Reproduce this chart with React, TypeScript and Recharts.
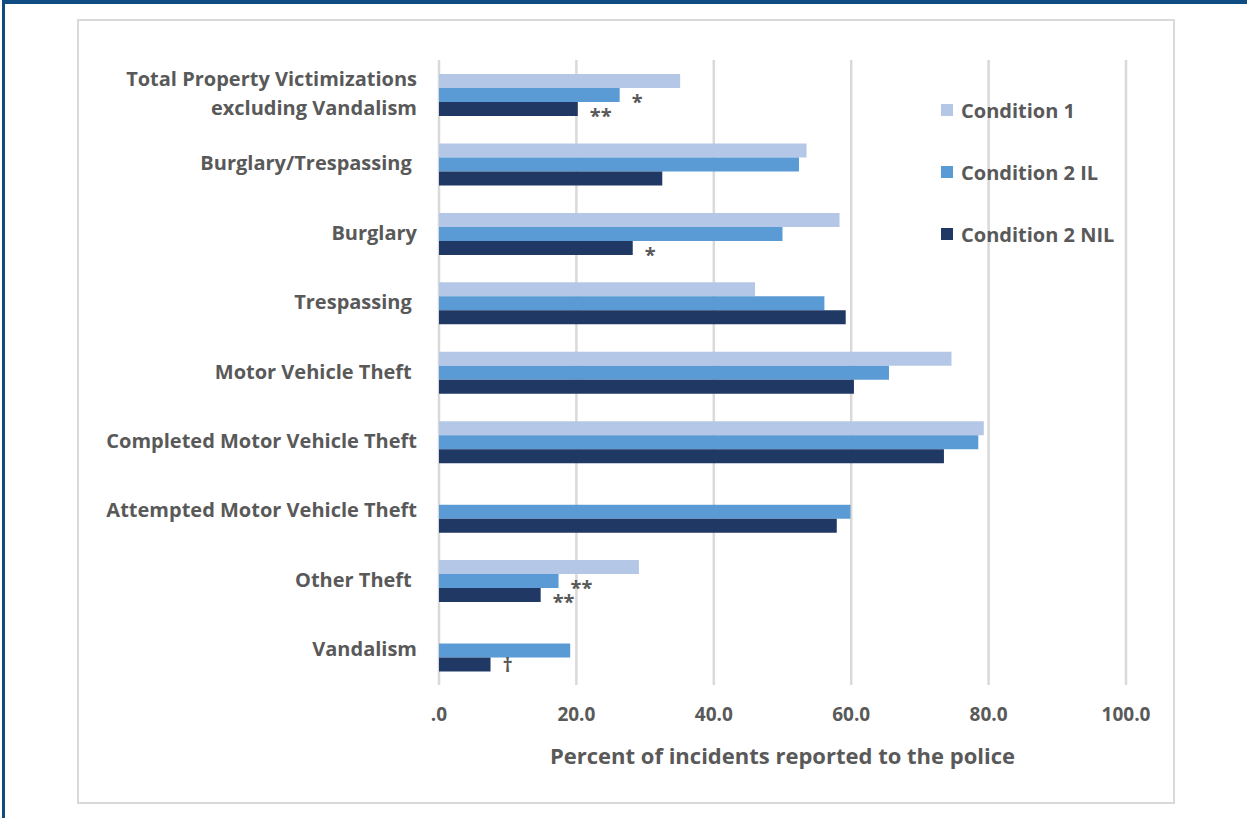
import { Bar, BarChart, CartesianGrid, Label, LabelList, Legend, XAxis, YAxis } from 'recharts';

const categories = [
    'Total Property Victimizations\nexcluding Vandalism',
    'Burglary/Trespassing ',
    'Burglary',
    'Trespassing ',
    'Motor Vehicle Theft ',
    'Completed Motor Vehicle Theft',
    'Attempted Motor Vehicle Theft',
    'Other Theft ',
    'Vandalism',
];

const condition1 = [35.1, 53.5, 58.3, 46.0, 74.6, 79.3, null, 29.1, null];
const condition2IL = [26.3, 52.4, 50.0, 56.1, 65.5, 78.5, 59.9, 17.4, 19.1];
const condition2NIL = [20.2, 32.5, 28.2, 59.2, 60.4, 73.5, 57.9, 14.8, 7.5];

const notesIL = ['*', '', '', '', '', '', '', '**', ''];
const notesNIL = ['**', '', '*', '', '', '', '', '**', '†'];

const xTicks = [0, 20, 40, 60, 80, 100];

const SERIES = [
    { key: 'c1', name: 'Condition 1', color: '#b4c7e7' },
    { key: 'il', name: 'Condition 2 IL', color: '#5b9bd5' },
    { key: 'nil', name: 'Condition 2 NIL', color: '#203864' },
];

const TEXT = '#595959';
const FONT = '"Open Sans", "Noto Sans", sans-serif';

const data = categories.map((label, i) => ({
    label,
    c1: condition1[i],
    il: condition2IL[i],
    nil: condition2NIL[i],
    ilNote: notesIL[i],
    nilNote: notesNIL[i],
}));

function CategoryTick({ x, y, payload }: any) {
    const lines = String(payload.value).split('\n');
    const lineH = 29;
    const start = -((lines.length - 1) * lineH) / 2 - 1;
    return (
        <text
            x={x}
            y={y}
            textAnchor="end"
            fill={TEXT}
            fontSize={20}
            fontWeight={700}
            style={{ whiteSpace: 'pre' }}
        >
            {lines.map((l, i) => (
                <tspan key={i} x={x} y={y + start + i * lineH} dy="0.35em">
                    {l}
                </tspan>
            ))}
        </text>
    );
}

function renderNote(props: any) {
    const { x, y, width, height, value } = props;
    if (!value) {
        return null;
    }
    const dy = value === '†' ? 7 : 14;
    return (
        <text
            x={x + width + 12}
            y={y + height / 2 + dy}
            fill={TEXT}
            fontSize={20}
            fontWeight={700}
            textAnchor="start"
        >
            {value}
        </text>
    );
}

function LegendBox() {
    return (
        <div style={{ fontFamily: FONT }}>
            {SERIES.map((s) => (
                <div
                    key={s.key}
                    style={{
                        display: 'flex',
                        alignItems: 'center',
                        height: 62,
                        color: TEXT,
                        fontSize: 20,
                        fontWeight: 700,
                    }}
                >
                    <span
                        style={{
                            width: 12,
                            height: 12,
                            background: s.color,
                            marginRight: 8,
                            display: 'inline-block',
                        }}
                    />
                    {s.name}
                </div>
            ))}
        </div>
    );
}

export default function App() {
    return (
        <div
            style={{
                position: 'absolute',
                left: 0,
                top: 0,
                width: 1247,
                height: 818,
                overflow: 'hidden',
                background: '#fff',
                fontFamily: FONT,
            }}
        >
            <div
                style={{
                    position: 'absolute',
                    left: 2,
                    top: 0,
                    width: 1400,
                    height: 1000,
                    borderTop: '4px solid #0f4c81',
                    borderLeft: '3px solid #0f4c81',
                }}
            />
            <div
                style={{
                    position: 'absolute',
                    left: 77,
                    top: 19,
                    width: 1094,
                    height: 781,
                    border: '2px solid #d9d9d9',
                    background: '#fff',
                }}
            />
            <div style={{ position: 'absolute', left: 0, top: 0 }}>
                <BarChart
                    width={1247}
                    height={818}
                    data={data}
                    layout="vertical"
                    margin={{ top: 60, right: 121, bottom: 40, left: 0 }}
                    barSize={14}
                    barGap={0}
                >
                    <CartesianGrid
                        horizontal={false}
                        stroke="#d9d9d9"
                        strokeWidth={2.5}
                    />
                    <XAxis
                        type="number"
                        domain={[0, 100]}
                        ticks={xTicks}
                        interval={0}
                        tickFormatter={(v: number) => (v === 0 ? '.0' : v.toFixed(1))}
                        axisLine={false}
                        tickLine={false}
                        tickSize={0}
                        tickMargin={23}
                        height={93}
                        tick={{ fill: TEXT, fontSize: 19, fontWeight: 700 }}
                    >
                        <Label
                            value="Percent of incidents reported to the police"
                            position="insideBottom"
                            offset={14}
                            fill={TEXT}
                            fontSize={22}
                            fontWeight={700}
                        />
                    </XAxis>
                    <YAxis
                        type="category"
                        dataKey="label"
                        width={439}
                        axisLine={false}
                        tickLine={false}
                        tickSize={0}
                        tickMargin={22}
                        interval={0}
                        tick={<CategoryTick />}
                    />
                    <Legend
                        layout="horizontal"
                        verticalAlign="middle"
                        align="center"
                        content={() => <LegendBox />}
                        wrapperStyle={{ left: 941, top: 79, width: 240 }}
                    />
                    {SERIES.map((s) => (
                        <Bar
                            key={s.key}
                            dataKey={s.key}
                            name={s.name}
                            fill={s.color}
                            isAnimationActive={false}
                        >
                            {s.key === 'il' && (
                                <LabelList dataKey="ilNote" content={renderNote} />
                            )}
                            {s.key === 'nil' && (
                                <LabelList dataKey="nilNote" content={renderNote} />
                            )}
                        </Bar>
                    ))}
                </BarChart>
            </div>
        </div>
    );
}
